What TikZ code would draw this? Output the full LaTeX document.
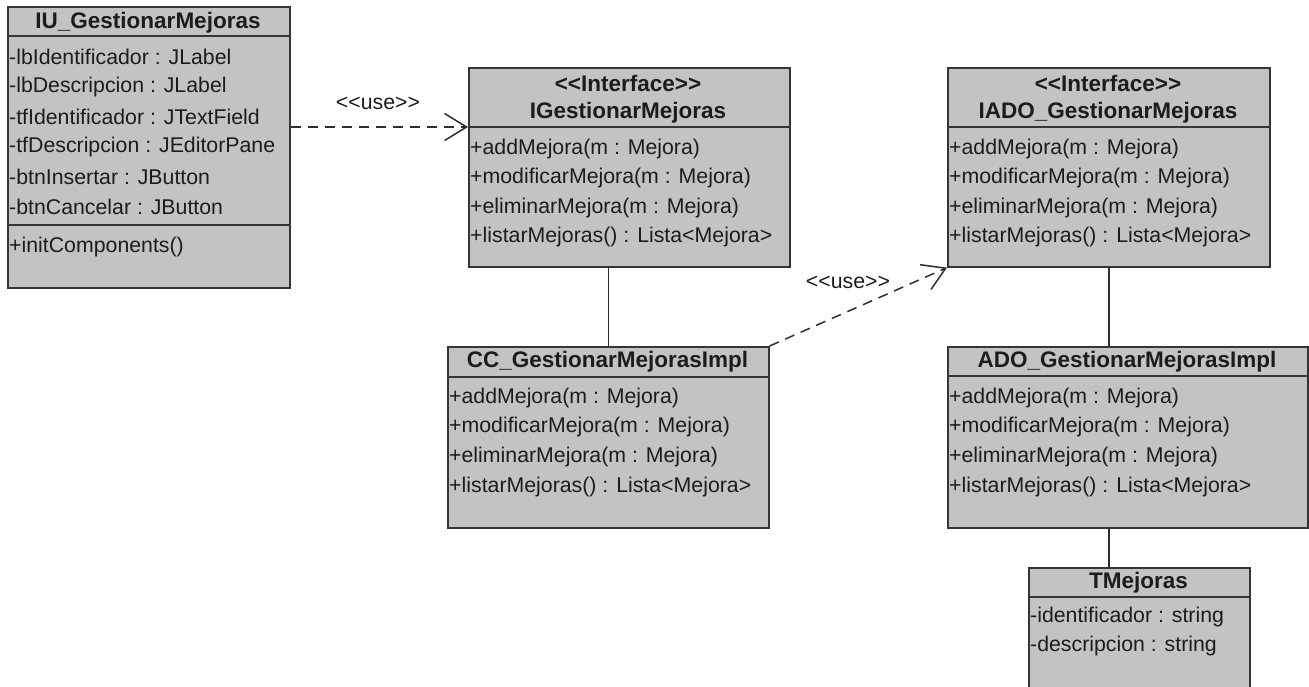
\documentclass[tikz,border=0pt]{standalone}
\usepackage{fontspec}
\setmainfont{Liberation Sans}[Ligatures=TeXOff]
\usetikzlibrary{calc,arrows.meta}

\definecolor{boxfill}{HTML}{C3C3C3}
\definecolor{boxline}{HTML}{353535}
\definecolor{linecol}{HTML}{2E2E2E}
\definecolor{ink}{HTML}{1C1C1C}

\newcommand\umlbody{\fontsize{21.3}{24}\selectfont}
\newcommand\umltitle{\fontsize{22.5}{26}\selectfont\bfseries}

\tikzset{
  classbox/.style={draw=boxline, fill=boxfill, line width=1.6pt, rectangle,
                   inner sep=0pt, anchor=north west},
  sep/.style={draw=boxline, line width=1.6pt},
  ctitle/.style={font=\umltitle, text=ink, inner sep=0pt},
  member/.style={font=\umlbody, text=ink, anchor=west, inner sep=0pt},
  lbl/.style={font=\umlbody, text=ink, inner sep=0pt},
  dep/.style={draw=linecol, line width=1.5pt, dash pattern=on 10pt off 7pt,
              -{Straight Barb[length=22pt,width=27pt,line width=1.5pt]}},
  assoc/.style={draw=linecol, line width=1.5pt}
}

\begin{document}
\begin{tikzpicture}[x=1pt,y=-1pt]
  \useasboundingbox (0,0) rectangle (1309,686);
  \fill[white] (0,0) rectangle (1309,686);
  \clip (0,0) rectangle (1309,686);

  % ---------- IU_GestionarMejoras ----------
  \node[classbox, minimum width=282pt, minimum height=281pt] (iu) at (7,6) {};
  \draw[sep] ($(iu.north west)+(0,30)$) -- ($(iu.north east)+(0,30)$);
  \draw[sep] ($(iu.north west)+(0,219)$) -- ($(iu.north east)+(0,219)$);
  \node[ctitle] (iuT) at (148,23) {IU\_GestionarMejoras};
  \node[member] (iuA1) at (9,57)  {-lbIdentificador : JLabel};
  \node[member] (iuA2) at (9,87)  {-lbDescripcion : JLabel};
  \node[member] (iuA3) at (9,117) {-tfIdentificador : JTextField};
  \node[member] (iuA4) at (9,147) {-tfDescripcion : JEditorPane};
  \node[member] (iuA5) at (9,177) {-btnInsertar : JButton};
  \node[member] (iuA6) at (9,207) {-btnCancelar : JButton};
  \node[member] (iuM1) at (9,247) {+initComponents()};

  % ---------- IGestionarMejoras ----------
  \node[classbox, minimum width=321pt, minimum height=199pt] (igm) at (468,67) {};
  \draw[sep] ($(igm.north west)+(0,60)$) -- ($(igm.north east)+(0,60)$);
  \node[ctitle] (igmS) at (628,83)  {<<Interface>>};
  \node[ctitle] (igmT) at (628,113) {IGestionarMejoras};
  \node[member] (igmM1) at (470,149) {+addMejora(m : Mejora)};
  \node[member] (igmM2) at (470,178) {+modificarMejora(m : Mejora)};
  \node[member] (igmM3) at (470,208) {+eliminarMejora(m : Mejora)};
  \node[member] (igmM4) at (470,237) {+listarMejoras() : Lista<Mejora>};

  % ---------- IADO_GestionarMejoras ----------
  \node[classbox, minimum width=322pt, minimum height=199pt] (iado) at (947,67) {};
  \draw[sep] ($(iado.north west)+(0,60)$) -- ($(iado.north east)+(0,60)$);
  \node[ctitle] (iadoS) at (1108,83)  {<<Interface>>};
  \node[ctitle] (iadoT) at (1108,113) {IADO\_GestionarMejoras};
  \node[member] (iadoM1) at (949,149) {+addMejora(m : Mejora)};
  \node[member] (iadoM2) at (949,178) {+modificarMejora(m : Mejora)};
  \node[member] (iadoM3) at (949,208) {+eliminarMejora(m : Mejora)};
  \node[member] (iadoM4) at (949,237) {+listarMejoras() : Lista<Mejora>};

  % ---------- CC_GestionarMejorasImpl ----------
  \node[classbox, minimum width=321pt, minimum height=181pt] (cc) at (447,346) {};
  \draw[sep] ($(cc.north west)+(0,31)$) -- ($(cc.north east)+(0,31)$);
  \node[ctitle] (ccT) at (607.5,362) {CC\_GestionarMejorasImpl};
  \node[member] (ccM1) at (449,398) {+addMejora(m : Mejora)};
  \node[member] (ccM2) at (449,427) {+modificarMejora(m : Mejora)};
  \node[member] (ccM3) at (449,457) {+eliminarMejora(m : Mejora)};
  \node[member] (ccM4) at (449,487) {+listarMejoras() : Lista<Mejora>};

  % ---------- ADO_GestionarMejorasImpl ----------
  \node[classbox, minimum width=360pt, minimum height=181pt] (ado) at (947,346) {};
  \draw[sep] ($(ado.north west)+(0,30)$) -- ($(ado.north east)+(0,30)$);
  \node[ctitle] (adoT) at (1127,362) {ADO\_GestionarMejorasImpl};
  \node[member] (adoM1) at (949,398) {+addMejora(m : Mejora)};
  \node[member] (adoM2) at (949,427) {+modificarMejora(m : Mejora)};
  \node[member] (adoM3) at (949,457) {+eliminarMejora(m : Mejora)};
  \node[member] (adoM4) at (949,487) {+listarMejoras() : Lista<Mejora>};

  % ---------- TMejoras ----------
  \node[classbox, minimum width=221pt, minimum height=140pt] (tm) at (1028,567) {};
  \draw[sep] ($(tm.north west)+(0,30)$) -- ($(tm.north east)+(0,30)$);
  \node[ctitle] (tmT) at (1138.5,583) {TMejoras};
  \node[member] (tmA1) at (1030,617) {-identificador : string};
  \node[member] (tmA2) at (1030,646) {-descripcion : string};

  % ---------- connectors ----------
  \coordinate (igmIn) at ($(igm.north west)+(0,60)$);
  \draw[dep] (iu.east |- igmIn) -- (igmIn);
  \node[lbl] (use1) at (378,103) {<<use>>};

  \draw[dep] (cc.north east) -- (iado.south west);
  \node[lbl] (use2) at (848,282) {<<use>>};

  \draw[assoc] (cc.north) -- (cc.north |- igm.south);
  \draw[assoc] (iado.south) -- (iado.south |- ado.north);
  \draw[assoc] (iado.south |- ado.south) -- (iado.south |- tm.north);
\end{tikzpicture}
\end{document}
